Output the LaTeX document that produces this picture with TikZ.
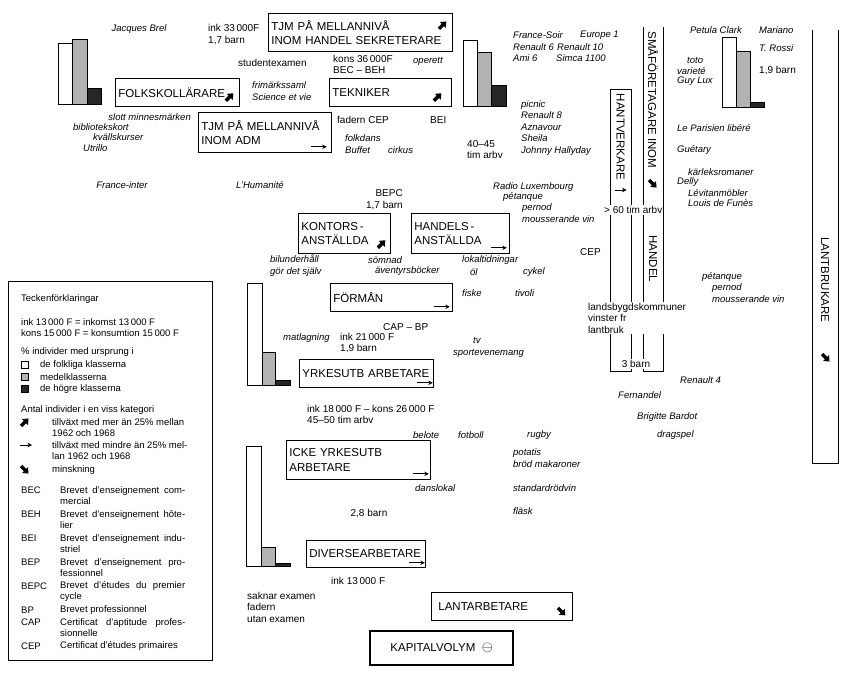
\documentclass[tikz,border=0pt]{standalone}
\usepackage{fontspec}
\setmainfont{Liberation Sans}
\usetikzlibrary{calc, arrows.meta}

\newcommand{\kultfont}{\fontsize{9.5}{11.5}\selectfont\itshape}
\newcommand{\faktafont}{\fontsize{10}{11.5}\selectfont}
\newcommand{\yrkefont}{\fontsize{11.5}{14.5}\selectfont}
\newcommand{\forklfont}{\fontsize{9.5}{11}\selectfont}

\tikzset{
  yrke/.style 2 args={draw, line width=0.8pt, font=\yrkefont, align=left,
    anchor=north west, inner xsep=3pt, inner ysep=2pt,
    text width=#1, minimum height=#2},
  vlabel/.style={font=\yrkefont, rotate=-90, inner sep=0pt},
  kult/.style={font=\kultfont, anchor=west, inner sep=0pt, align=left},
  fakta/.style={font=\faktafont, anchor=west, inner sep=0pt, align=left},
  forkl/.style={font=\forklfont, anchor=west, inner sep=0pt, align=left},
  linje/.style={line width=0.8pt},
  folklig/.style={draw, line width=0.6pt, fill=white},
  medel/.style={draw, line width=0.6pt, fill=black!30},
  hogre/.style={draw, line width=0.6pt, fill=black!85},
  upp/.pic={\fill[rotate=45] (-5.5,-1.7) -- (0,-1.7) -- (0,-4.2) -- (5,0)
    -- (0,4.2) -- (0,1.7) -- (-5.5,1.7) -- cycle;},
  ner/.pic={\fill[rotate=-45] (-5.5,-1.7) -- (0,-1.7) -- (0,-4.2) -- (5,0)
    -- (0,4.2) -- (0,1.7) -- (-5.5,1.7) -- cycle;},
  fram/.pic={\draw[line width=0.8pt, -{Stealth[length=4.5pt, width=4.5pt]}]
    (-8,0) -- (8,0);}
}

\begin{document}
\begin{tikzpicture}[x=1pt, y=-1pt]
\useasboundingbox (0,0) rectangle (857,675);

% staplar: folkliga, medel, hogre klasser
\draw[folklig] (58,104) rectangle (72,43);
\draw[medel] (72,104) rectangle (87,39);
\draw[hogre] (87,104) rectangle (101,88);
\draw[folklig] (463,106) rectangle (477,40);
\draw[medel] (477,106) rectangle (491,52);
\draw[hogre] (491,106) rectangle (506,85);
\draw[folklig] (722,107) rectangle (736,37);
\draw[medel] (736,107) rectangle (750,51);
\draw[hogre] (750,107) rectangle (764,102);
\draw[folklig] (247,385) rectangle (262,283);
\draw[medel] (262,385) rectangle (275,352);
\draw[hogre] (275,385) rectangle (290,380);
\draw[folklig] (246,566) rectangle (261,446);
\draw[medel] (261,566) rectangle (275,547);
\draw[hogre] (275,566) rectangle (290,563);

% yrkesgrupper
\node[yrke={178pt}{38pt}] (tjmhandel) at (268,13) {TJM PÅ MELLANNIVÅ\\INOM HANDEL SEKRETERARE};
\node[yrke={118pt}{28pt}] (folk) at (115,78) {FOLKSKOLLÄRARE};
\node[yrke={116pt}{28pt}] (tekniker) at (329,78) {TEKNIKER};
\node[yrke={127pt}{40pt}] (tjmadm) at (198,112) {TJM PÅ MELLANNIVÅ\\INOM ADM};
\node[yrke={86pt}{40pt}] (kontor) at (298,213) {KONTORS\,-\\ANSTÄLLDA};
\node[yrke={92pt}{40pt}] (handel) at (411,213) {HANDELS\,-\\ANSTÄLLDA};
\node[yrke={116pt}{28pt}] (forman) at (330,283) {FÖRMÅN};
\node[yrke={128pt}{28pt}] (yrkesutb) at (299,359) {\mbox{YRKESUTB ARBETARE}};
\node[yrke={138pt}{39pt}] (ickeyrkes) at (286,440) {ICKE YRKESUTB\\ARBETARE};
\node[yrke={113pt}{27pt}] (divers) at (306,540) {\mbox{DIVERSEARBETARE}};
\node[yrke={135pt}{28pt}] (lantarb) at (431,592) {\hspace{4pt}LANTARBETARE};
\node[draw, line width=2.4pt, font=\yrkefont, minimum width=143pt, minimum height=34pt,
  anchor=north west] (kapital) at (369,630) {KAPITALVOLYM\ \ {\fontsize{15}{15}\selectfont$\ominus$}};

\pic at ($(tjmhandel.north east)+(-10,12)$) {upp};
\pic at ($(folk.south east)+(-10,-10)$) {upp};
\pic at ($(tekniker.south east)+(-14,-10)$) {upp};
\pic at ($(tjmadm.south east)+(-13,-6)$) {fram};
\pic at ($(kontor.south east)+(-9,-10)$) {upp};
\pic at ($(handel.south east)+(-11,-6)$) {fram};
\pic at ($(forman.south east)+(-11,-5)$) {fram};
\pic at ($(yrkesutb.south east)+(-9,-5)$) {fram};
\pic at ($(ickeyrkes.south east)+(-10,-6)$) {fram};
\pic at ($(divers.south east)+(-9,-5)$) {fram};
\pic at ($(lantarb.south east)+(-11,-9)$) {ner};

% staende rutor till hoger
\draw[linje] (610,371) -- (610,89) -- (631,89) -- (631,371) -- cycle;
\draw[linje] (643,27) -- (643,371) -- (663,371) -- (663,27);
\draw[linje] (812,30) -- (812,463) -- (838,463) -- (838,30);
\node[vlabel] (hantv) at (620.5,137) {HANTVERKARE};
\pic[scale=0.7] at (621,190) {fram};
\node[vlabel] (smaf) at (653,100) {SMÅFÖRETAGARE INOM};
\pic at (653,184) {ner};
\node[vlabel] (handl) at (653,259) {HANDEL};
\node[vlabel] (lantbr) at (825,280) {LANTBRUKARE};
\pic at (826,358) {ner};
\node[fakta, fill=white, inner sep=1pt] (over60) at (603,210) {> 60 tim arbv};
\node[fakta, fill=white, inner sep=1pt] (landsb) at (587,318) {landsbygdskommuner\\vinster fr\\lantbruk};
\node[fakta, fill=white, inner sep=1pt, anchor=center] (barn3) at (636,364) {3 barn};

% fakta
\node[fakta] (ink33) at (208,34.5) {ink 33\,000F\\1,7 barn};
\node[fakta] (student) at (238,63) {studentexamen};
\node[fakta] (kons36) at (333,64.5) {kons 36\,000F\\BEC – BEH};
\node[fakta] (fadern) at (337,120) {fadern CEP};
\node[fakta] (bei) at (430,120) {BEI};
\node[fakta] (tim4045) at (467,149.5) {40–45\\tim arbv};
\node[fakta] (barn19a) at (759,71) {1,9 barn};
\node[fakta, anchor=east, align=right] (bepc) at (403,199.5) {BEPC\\1,7 barn};
\node[fakta] (cep) at (580,252) {CEP};
\node[fakta] (capbp) at (383,327) {CAP – BP};
\node[fakta] (ink21) at (340,343) {ink 21\,000 F\\1,9 barn};
\node[fakta] (ink18) at (307,414.5) {ink 18\,000 F – kons 26\,000 F\\45–50 tim arbv};
\node[fakta, anchor=center] (barn28) at (369,514) {2,8 barn};
\node[fakta] (ink13) at (331,581) {ink 13\,000 F};
\node[fakta] (saknar) at (247,607) {saknar examen\\fadern\\utan examen};

% kultur, vanster
\node[kult, anchor=center] (brel) at (139,29) {Jacques Brel};
\node[kult, anchor=east] (slott) at (191,117) {slott minnesmärken};
\node[kult] (bibl) at (73,127) {bibliotekskort};
\node[kult] (kvall) at (93,137) {kvällskurser};
\node[kult] (utrillo) at (83,148) {Utrillo};
\node[kult, anchor=center] (finter) at (122,185) {France-inter};
\node[kult, anchor=center] (human) at (260,185) {L'Humanité};
\node[kult] (frim) at (252,91) {frimärkssaml\\Science et vie};
\node[kult] (operett) at (413,61) {operett};
\node[kult] (folkd) at (345,138) {folkdans};
\node[kult] (buffet) at (345,150) {Buffet};
\node[kult] (cirkus) at (388,150) {cirkus};

% kultur, mitten uppe
\node[kult] (fsoir) at (513,35) {France-Soir};
\node[kult] (europe) at (580,35) {Europe 1};
\node[kult] (ren6) at (513,47) {Renault 6};
\node[kult] (ren10) at (557,47) {Renault 10};
\node[kult] (ami) at (513,58) {Ami 6};
\node[kult] (simca) at (556,58) {Simca 1100};
\node[kult] (picnic) at (521,128) {picnic\\Renault 8\\Aznavour\\Sheila\\Johnny Hallyday};
\node[kult] (radio) at (493,187) {Radio Luxembourg};
\node[kult] (petq1) at (503,197) {pétanque};
\node[kult] (pern1) at (522,208) {pernod};
\node[kult] (mouss1) at (522,219) {mousserande vin};

% kultur, hoger
\node[kult, anchor=center] (petula) at (716,30) {Petula Clark};
\node[kult] (mariano) at (759,30) {Mariano};
\node[kult] (rossi) at (759,48) {T. Rossi};
\node[kult] (toto) at (687,60) {toto};
\node[kult] (variete) at (677,71) {varieté};
\node[kult] (guylux) at (677,81) {Guy Lux};
\node[kult] (paris) at (677,128) {Le Parisien libéré};
\node[kult] (guetary) at (677,150) {Guétary};
\node[kult] (karlek) at (688,172) {kärleksromaner};
\node[kult] (delly) at (677,182) {Delly};
\node[kult] (levitan) at (688,193) {Lévitanmöbler};
\node[kult] (funes) at (688,203) {Louis de Funès};
\node[kult] (petq2) at (702,277) {pétanque};
\node[kult] (pern2) at (712,288) {pernod};
\node[kult] (mouss2) at (712,299) {mousserande vin};
\node[kult] (ren4) at (680,380) {Renault 4};
\node[kult] (fernandel) at (618,395) {Fernandel};
\node[kult] (bardot) at (637,417) {Brigitte Bardot};
\node[kult] (dragspel) at (657,435) {dragspel};

% kultur, mitten
\node[kult] (bilund) at (270,265.5) {bilunderhåll\\gör det själv};
\node[kult] (somnad) at (368,260) {sömnad};
\node[kult] (aventyr) at (375,271) {äventyrsböcker};
\node[kult] (lokal) at (462,260) {lokaltidningar};
\node[kult] (ol) at (470,272) {öl};
\node[kult] (cykel) at (523,272) {cykel};
\node[kult] (fiske) at (462,293) {fiske};
\node[kult] (tivoli) at (515,293) {tivoli};
\node[kult] (matlag) at (283,338) {matlagning};
\node[kult] (tv) at (473,340) {tv};
\node[kult] (sport) at (453,353) {sportevenemang};

% kultur, nere
\node[kult] (belote) at (413,435) {belote};
\node[kult] (fotboll) at (458,435) {fotboll};
\node[kult] (rugby) at (527,435) {rugby};
\node[kult] (potatis) at (513,458) {potatis\\bröd makaroner};
\node[kult] (dans) at (415,488) {danslokal};
\node[kult] (rodvin) at (513,488) {standardrödvin};
\node[kult] (flask) at (513,511) {fläsk};

% teckenforklaring
\node[draw, line width=0.6pt, minimum width=204pt, minimum height=379pt,
  anchor=north west] (forklaring) at (8,281) {};
\node[forkl] (teck) at (21,299) {Teckenförklaringar};
\node[forkl] (inkf) at (21,327.5) {ink 13\,000 F = inkomst 13\,000 F\\kons 15\,000 F = konsumtion 15\,000 F};
\node[forkl] (urspr) at (21,352) {\% individer med ursprung i};
\draw[folklig] (21,361.5) rectangle (28,368.5);
\node[forkl] (folklt) at (40,365) {de folkliga klasserna};
\draw[medel] (21,373.5) rectangle (28,380.5);
\node[forkl] (medelt) at (40,377) {medelklasserna};
\draw[hogre] (21,385.5) rectangle (28,392.5);
\node[forkl] (hogret) at (40,389) {de högre klasserna};
\node[forkl] (antal) at (21,410) {Antal individer i en viss kategori};
\pic at (25,422) {upp};
\node[forkl] (meran) at (52,427.5) {tillväxt med mer än 25\% mellan\\1962 och 1968};
\pic[scale=0.75] at (26,445) {fram};
\node[forkl] (mindre) at (52,450.5) {tillväxt med mindre än 25\% mel-\\lan 1962 och 1968};
\pic at (25,470) {ner};
\node[forkl] (minsk) at (52,470) {minskning};
\foreach \kod/\yy/\forsta/\andra in {
  BEC/490/{Brevet d'enseignement com-}/mercial,
  BEH/514/{Brevet d'enseignement hôte-}/lier,
  BEI/538/{Brevet d'enseignement indu-}/striel,
  BEP/562/{Brevet d'enseignement pro-}/fessionnel,
  BEPC/586/{Brevet d'études du premier}/cycle,
  CAP/622/{Certificat d'aptitude profes-}/sionnelle}
{
  \node[forkl] (kod-\kod) at (21,\yy) {\kod};
  \node[forkl] (def-\kod) at (60,\yy+5.5) {\makebox[125pt][s]{\forsta}\\\andra};
}
\node[forkl] (kod-BP) at (21,610) {BP};
\node[forkl] (def-BP) at (60,610) {Brevet professionnel};
\node[forkl] (kod-CEP) at (21,646) {CEP};
\node[forkl] (def-CEP) at (60,646) {Certificat d'études primaires};

\end{tikzpicture}
\end{document}
